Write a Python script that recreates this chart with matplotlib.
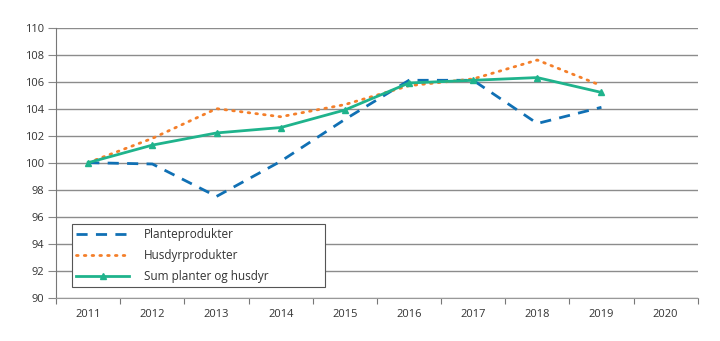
# Prisindeks planter og husdyr, 2011 = 100

import numpy as np
import matplotlib.pyplot as plt

plt.rcParams['font.family'] = ['Open Sans', 'DejaVu Sans']

years = ['2011', '2012', '2013', '2014', '2015', '2016', '2017', '2018', '2019', '2020']
plante = [100.0, 99.9, 97.5, 100.1, 103.2, 106.1, 106.1, 102.9, 104.1]
husdyr = [100.0, 101.8, 104.0, 103.4, 104.3, 105.7, 106.2, 107.6, 105.7]
sum_ph = [100.0, 101.3, 102.2, 102.6, 103.9, 105.9, 106.1, 106.3, 105.2]

fig = plt.figure(figsize=(7.2, 3.41), dpi=100)
ax = fig.add_axes([0.078, 0.127, 0.891, 0.792])

x = np.arange(len(plante))
ax.plot(x, plante, color='#1070b4', lw=2, dashes=(4, 3), label='Planteprodukter')
ax.plot(x, husdyr, color='#f47f2a', lw=2, linestyle=(0, (0.6, 2.2)), dash_capstyle='round',
        label='Husdyrprodukter')
ax.plot(x, sum_ph, color='#1fb38c', lw=2, marker='^', markersize=4, label='Sum planter og husdyr')

ax.set_ylim(90, 110)
ax.set_yticks(np.arange(90, 111, 2))
ax.set_xlim(-0.5, len(years) - 0.5)
ax.set_xticks(np.arange(-0.5, len(years), 1))
ax.set_xticklabels([])
ax.set_xticks(np.arange(len(years)), minor=True)
ax.set_xticklabels(years, minor=True)
ax.tick_params(axis='x', which='minor', length=0, pad=8, labelsize=8, colors='#333333')
ax.tick_params(axis='x', which='major', length=4, color='#777777')
ax.tick_params(axis='y', length=6, color='#888888', labelsize=8, labelcolor='#333333', pad=3)

ax.grid(axis='y', color='#8c8c8c', lw=1)
ax.set_axisbelow(True)
for s in ['top', 'right']:
    ax.spines[s].set_visible(False)
ax.spines['left'].set_color('#777777')
ax.spines['bottom'].set_color('#999999')

leg = ax.legend(loc='lower left', bbox_to_anchor=(0.025, 0.04, 0.394, 0.2), mode='expand',
                borderaxespad=0, fancybox=False, framealpha=1, numpoints=1,
                edgecolor='#555555', fontsize=8.5, handlelength=4.5, borderpad=0.35,
                labelspacing=0.65, handletextpad=1.2)
leg.get_frame().set_linewidth(0.8)
for t in leg.get_texts():
    t.set_color('#333333')

fig.savefig('out.png', dpi=100)
